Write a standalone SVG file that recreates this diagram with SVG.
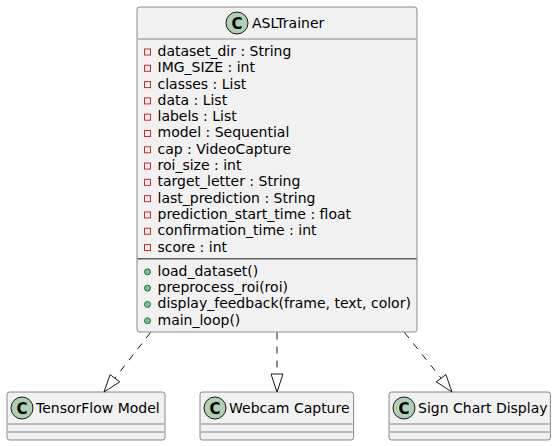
<svg xmlns="http://www.w3.org/2000/svg" width="556" height="446" viewBox="0 0 556 446">
<style>
.box{fill:#F1F1F1;stroke:#181818;stroke-width:0.5}
.sep{stroke:#181818;stroke-width:0.5}
.sep2{stroke:#181818;stroke-width:1}
.ico{fill:#ADD1B2;stroke:#181818;stroke-width:1}
.cl{font-family:"DejaVu Sans",sans-serif;font-size:15px;font-weight:bold;fill:#000;text-anchor:middle}
.t{font-family:"DejaVu Sans",sans-serif;font-size:14px;fill:#000}
.priv{fill:none;stroke:#C82930;stroke-width:1}
.pub{fill:#84BE84;stroke:#038048;stroke-width:1}
.edge{fill:none;stroke:#181818;stroke-width:1;stroke-dasharray:7,7}
.head{fill:none;stroke:#181818;stroke-width:1}
</style>
<rect width="556" height="446" fill="#FFFFFF"/>
<g id="ASLTrainer">
<rect class="box" x="137" y="7" width="280" height="325" rx="2.5" ry="2.5"/>
<circle class="ico" cx="237" cy="23" r="11"/>
<text class="cl" x="237" y="28.5">C</text>
<text class="t" x="252" y="27.85">ASLTrainer</text>
<line class="sep" x1="138" y1="39" x2="416" y2="39"/>
<rect class="priv" x="144.5" y="48.99" width="6" height="6"/>
<text class="t" x="157.5" y="55.99">dataset_dir : String</text>
<rect class="priv" x="144.5" y="65.29" width="6" height="6"/>
<text class="t" x="157.5" y="72.29">IMG_SIZE : int</text>
<rect class="priv" x="144.5" y="81.59" width="6" height="6"/>
<text class="t" x="157.5" y="88.59">classes : List</text>
<rect class="priv" x="144.5" y="97.88" width="6" height="6"/>
<text class="t" x="157.5" y="104.88">data : List</text>
<rect class="priv" x="144.5" y="114.18" width="6" height="6"/>
<text class="t" x="157.5" y="121.18">labels : List</text>
<rect class="priv" x="144.5" y="130.48" width="6" height="6"/>
<text class="t" x="157.5" y="137.48">model : Sequential</text>
<rect class="priv" x="144.5" y="146.77" width="6" height="6"/>
<text class="t" x="157.5" y="153.77">cap : VideoCapture</text>
<rect class="priv" x="144.5" y="163.07" width="6" height="6"/>
<text class="t" x="157.5" y="170.07">roi_size : int</text>
<rect class="priv" x="144.5" y="179.37" width="6" height="6"/>
<text class="t" x="157.5" y="186.37">target_letter : String</text>
<rect class="priv" x="144.5" y="195.66" width="6" height="6"/>
<text class="t" x="157.5" y="202.66">last_prediction : String</text>
<rect class="priv" x="144.5" y="211.96" width="6" height="6"/>
<text class="t" x="157.5" y="218.96">prediction_start_time : float</text>
<rect class="priv" x="144.5" y="228.26" width="6" height="6"/>
<text class="t" x="157.5" y="235.26">confirmation_time : int</text>
<rect class="priv" x="144.5" y="244.55" width="6" height="6"/>
<text class="t" x="157.5" y="251.55">score : int</text>
<line class="sep2" x1="137.5" y1="258.85" x2="416.5" y2="258.85"/>
<circle class="pub" cx="147.5" cy="271.85" r="3"/>
<text class="t" x="157.5" y="275.85">load_dataset()</text>
<circle class="pub" cx="147.5" cy="288.14" r="3"/>
<text class="t" x="157.5" y="292.14">preprocess_roi(roi)</text>
<circle class="pub" cx="147.5" cy="304.44" r="3"/>
<text class="t" x="157.5" y="308.44">display_feedback(frame, text, color)</text>
<circle class="pub" cx="147.5" cy="320.74" r="3"/>
<text class="t" x="157.5" y="324.74">main_loop()</text>
</g>
<g id="TensorFlowModel">
<rect class="box" x="7" y="392" width="158" height="48" rx="2.5" ry="2.5"/>
<circle class="ico" cx="22" cy="408" r="11"/>
<text class="cl" x="22" y="413.5">C</text>
<text class="t" x="36" y="412.85">TensorFlow Model</text>
<line class="sep" x1="8" y1="424" x2="164" y2="424"/>
<line class="sep" x1="8" y1="432" x2="164" y2="432"/>
</g>
<g id="WebcamCapture">
<rect class="box" x="200" y="392" width="153.6" height="48" rx="2.5" ry="2.5"/>
<circle class="ico" cx="215" cy="408" r="11"/>
<text class="cl" x="215" y="413.5">C</text>
<text class="t" x="229" y="412.85">Webcam Capture</text>
<line class="sep" x1="201" y1="424" x2="352.6" y2="424"/>
<line class="sep" x1="201" y1="432" x2="352.6" y2="432"/>
</g>
<g id="SignChartDisplay">
<rect class="box" x="389" y="392" width="161.4" height="48" rx="2.5" ry="2.5"/>
<circle class="ico" cx="404" cy="408" r="11"/>
<text class="cl" x="404" y="413.5">C</text>
<text class="t" x="418" y="412.85">Sign Chart Display</text>
<line class="sep" x1="390" y1="424" x2="549.4" y2="424"/>
<line class="sep" x1="390" y1="432" x2="549.4" y2="432"/>
</g>
<g id="connectors">
<path class="edge" d="M150.5,332.5 L114.9,378.2"/>
<polygon class="head" points="104,392 110.1,374.6 119.7,381.8"/>
<path class="edge" d="M277,332.5 L277,374"/>
<polygon class="head" points="277,392 271,374 283,374"/>
<path class="edge" d="M404.5,332.5 L441.1,378.2"/>
<polygon class="head" points="452,392 436.3,381.8 445.9,374.6"/>
</g>
</svg>
